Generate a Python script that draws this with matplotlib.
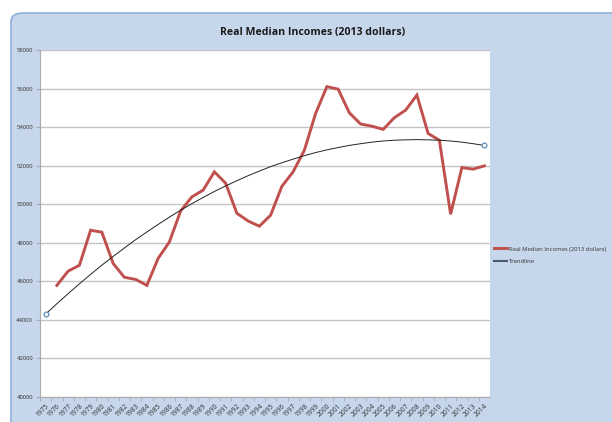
import matplotlib
matplotlib.use("Agg")
import matplotlib.pyplot as plt
from matplotlib.patches import FancyBboxPatch

# data
years = list(range(1975, 2015))
income_years = list(range(1976, 2015))
income = [45790, 46530, 46830, 48650, 48550, 46930, 46210, 46100, 45790, 47190,
          48040, 49650, 50380, 50730, 51680, 51090, 49530, 49130, 48860, 49430,
          50930, 51680, 52800, 54710, 56100, 55970, 54740, 54160, 54050, 53880,
          54490, 54880, 55660, 53670, 53320, 49480, 51900, 51820, 51990]
trend = [44300, 44840, 45360, 45870, 46360, 46840, 47290, 47730, 48160, 48560,
         48950, 49330, 49690, 50030, 50350, 50660, 50950, 51220, 51480, 51720,
         51950, 52150, 52340, 52520, 52680, 52820, 52940, 53050, 53140, 53220,
         53280, 53320, 53340, 53350, 53340, 53320, 53280, 53220, 53140, 53050]
yticks = list(range(40000, 58001, 2000))

plt.rcParams['font.family'] = ['Open Sans', 'DejaVu Sans']

bg = '#c6d6eb'
fig = plt.figure(figsize=(6.12, 4.22), dpi=100)
fig.patch.set_facecolor('white')

# chart frame
frame = FancyBboxPatch((11 / 612, -0.05), 1.0, (422 - 13) / 422 + 0.05,
                       boxstyle='round,pad=0,rounding_size=0.02',
                       transform=fig.transFigure, facecolor=bg,
                       edgecolor='#8fb0dc', linewidth=1.2, zorder=-10)
fig.patches.append(frame)

ax = fig.add_axes([40 / 612, (422 - 397) / 422, 450 / 612, 347 / 422])
ax.set_zorder(5)
ax.set_facecolor('white')

xpos = [y - 1975 for y in years]
xpos_inc = [y - 1975 for y in income_years]

ax.plot(xpos_inc, income, color='#c0504d', linewidth=2.1, solid_joinstyle='miter',
        label='Real Median Incomes (2013 dollars)', zorder=3)
ax.plot(xpos, trend, color='#222222', linewidth=0.7, zorder=4)
ax.plot([xpos[0], xpos[-1]], [trend[0], trend[-1]], linestyle='none', marker='o',
        markersize=3.5, markerfacecolor='white', markeredgecolor='#4f81bd',
        markeredgewidth=0.8, zorder=5)
ax.plot([], [], color='#4a5a70', linewidth=1.5, label='Trendline')

ax.set_xlim(-0.5, 39.5)
ax.set_ylim(40000, 58000)
ax.set_yticks(yticks)
ax.set_yticklabels([str(v) for v in yticks], fontsize=4.2, color='#333333')
ax.yaxis.grid(True, color='#c4c4c4', linewidth=1.0)
ax.set_axisbelow(True)

ax.set_xticks(xpos)
ax.set_xticklabels([str(y) for y in years], rotation=45, ha='right',
                   rotation_mode='anchor', fontsize=4.8, color='#333333')
ax.tick_params(axis='x', length=0, pad=4)
ax.set_xticks([x + 0.5 for x in xpos[:-1]] + [-0.5], minor=True)
ax.tick_params(axis='x', which='minor', length=3, color='#aaaaaa')
ax.tick_params(axis='y', length=3, color='#aaaaaa', pad=2)

for s in ['top', 'right']:
    ax.spines[s].set_visible(False)
ax.spines['left'].set_color('#aaaaaa')
ax.spines['bottom'].set_color('#aaaaaa')

fig.text(313 / 612, 1 - 32 / 422, 'Real Median Incomes (2013 dollars)',
         ha='center', va='center', fontsize=7.6, fontweight='bold', color='#1a1a1a')

leg = fig.legend(loc='center left', bbox_to_anchor=(492 / 612, 1 - 255 / 422),
                 frameon=False, fontsize=4.2, handlelength=2.2,
                 labelspacing=1.2, handletextpad=0.3, borderaxespad=0)
for t in leg.get_texts():
    t.set_color('#333333')

fig.savefig('out.png', dpi=100, facecolor=fig.get_facecolor())
